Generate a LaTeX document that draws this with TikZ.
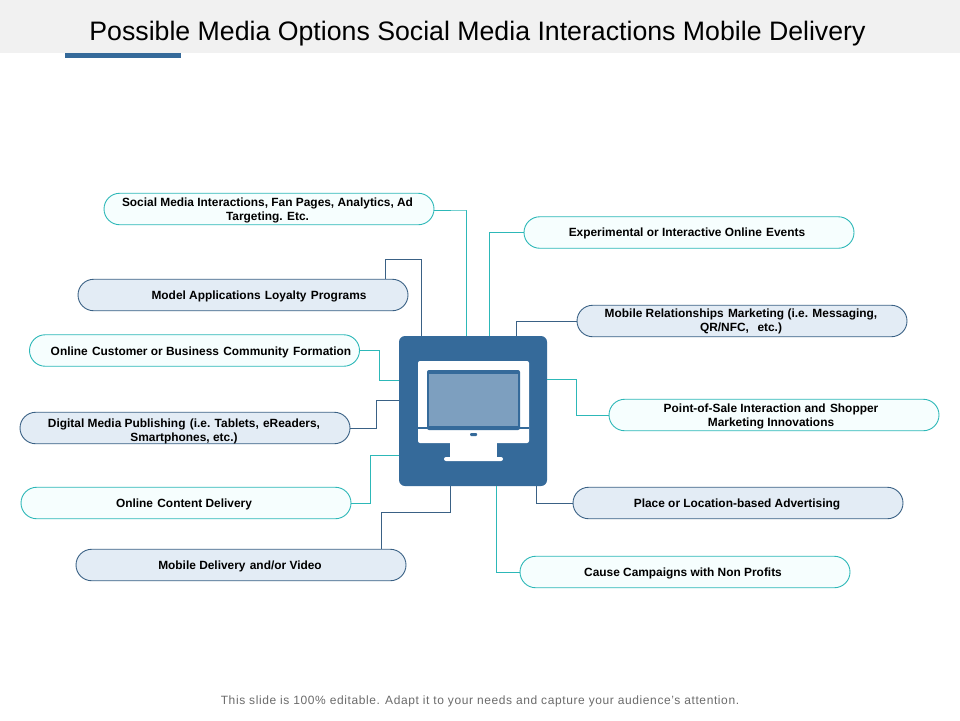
\documentclass[tikz,border=0pt]{standalone}
\usepackage{fontspec}
\setmainfont{Liberation Sans}
\usetikzlibrary{shapes.misc}
\definecolor{brand}{HTML}{356A9A}
\definecolor{tealline}{HTML}{2DB8B8}
\definecolor{darkline}{HTML}{3A6185}
\definecolor{tealfill}{HTML}{F6FEFE}
\definecolor{darkfill}{HTML}{E3ECF5}
\definecolor{screenfill}{HTML}{7D9FBF}
\newcommand\wgap{\hspace{4.3pt}}
\tikzset{
  x=1pt,y=-1pt,
  pill/.style={draw,rounded rectangle,minimum width=330pt,minimum height=31.5pt,inner sep=0pt,line width=0.9pt},
  tealpill/.style={pill,draw=tealline,fill=tealfill},
  darkpill/.style={pill,draw=darkline,fill=darkfill},
  pilltext/.style={font=\fontsize{11.9}{14}\selectfont\bfseries,align=center,inner sep=0pt,text=black},
  tealconn/.style={draw=tealline,line width=1pt},
  darkconn/.style={draw=darkline,line width=1pt},
  whitepart/.style={fill=white,draw=none},
}
\begin{document}
\begin{tikzpicture}
\useasboundingbox (0,0) rectangle (960,720);
\fill[fill=white] (0,0) rectangle (960,720);
\fill[fill=black!5.5] (0,0) rectangle (960,53);
\fill[fill=brand] (65,53) rectangle (181,58);
\node[font=\fontsize{26.7}{30}\selectfont,inner sep=0pt,text=black] (title) at (477.5,33.5) {Possible Media Options Social Media Interactions Mobile Delivery};
\node[font=\fontsize{12}{14}\selectfont\addfontfeature{LetterSpace=5},inner sep=0pt,text=black!58] (foot) at (480,701) {This slide is 100\% editable. Adapt it to your needs and capture your audience's attention.};

% centre
\node[fill=brand,draw=none,rounded corners=6pt,minimum width=148pt,minimum height=150pt,inner sep=0pt] (hub) at (473,411) {};

% pills
\node[tealpill] (a) at (269,209) {};
\node[darkpill] (b) at (243,295) {};
\node[tealpill] (c) at (194.5,350.5) {};
\node[darkpill] (d) at (185,428) {};
\node[tealpill] (e) at (186,503) {};
\node[darkpill] (f) at (241,565) {};
\node[tealpill] (g) at (689,232.5) {};
\node[darkpill] (h) at (742,321) {};
\node[tealpill] (i) at (774,415) {};
\node[darkpill] (j) at (738,503) {};
\node[tealpill] (k) at (685,572) {};

% connectors
\draw[tealconn] ([yshift=-1pt]a.east) -- ++(32.5,0) -| ([xshift=-6.5pt]hub.north);
\draw[darkconn] ([xshift=142.5pt]b.north) -- ++(0,-19) -| ([xshift=-51.5pt]hub.north);
\draw[tealconn] (c.east) -- ++(19.5,0) |- ([yshift=31pt]hub.west);
\draw[darkconn] (d.east) -- ++(26,0) |- ([yshift=11pt]hub.west);
\draw[tealconn] (e.east) -- ++(19.5,0) |- ([yshift=-44pt]hub.west);
\draw[darkconn] ([xshift=140.5pt]f.north) -- ++(0,-36) -| ([xshift=-22.5pt]hub.south);
\draw[tealconn] (g.west) -- ++(-34.5,0) -| ([xshift=16.5pt]hub.north);
\draw[darkconn] (h.west) -| ([xshift=43.5pt]hub.north);
\draw[tealconn] ([yshift=32pt]hub.east) -- ++(29.5,0) |- (i.west);
\draw[darkconn] (j.west) -| ([xshift=63.5pt]hub.south);
\draw[tealconn] (k.west) -| ([xshift=23.5pt]hub.south);

% monitor icon
\fill[whitepart,rounded corners=2pt] (418,361) rectangle (529,443);
\fill[fill=brand,rounded corners=2pt] (427,370) rectangle (520,430);
\fill[fill=screenfill] (429,374) rectangle (518,426);
\fill[fill=brand] (418,426.5) rectangle (529,429);
\fill[fill=brand,rounded corners=1pt] (470,433) rectangle (477,436);
\fill[whitepart] (450,443) rectangle (497,458);
\fill[whitepart,rounded corners=2pt] (444,457) rectangle (503,461);

\node[pilltext] (ta) at (267.5,210) {Social Media Interactions, Fan Pages, Analytics, Ad\\Targeting. Etc.};
\node[pilltext] (tb) at (259,296) {Model Applications\wgap Loyalty\wgap Programs};
\node[pilltext] (tc) at (201,352) {Online\wgap Customer or Business\wgap Community\wgap Formation};
\node[pilltext] (td) at (184,431) {Digital Media Publishing\wgap (i.e. Tablets,\wgap eReaders,\\Smartphones, etc.)};
\node[pilltext] (te) at (184,504) {Online\wgap Content Delivery};
\node[pilltext] (tf) at (240,566) {Mobile Delivery\wgap and/or Video};
\node[pilltext] (tg) at (687,233.5) {Experimental or Interactive Online\wgap Events};
\node[pilltext] (th) at (741,321.5) {Mobile Relationships\wgap Marketing (i.e. Messaging,\\QR/NFC,\wgap\wgap etc.)};
\node[pilltext] (ti) at (771,416) {Point-of-Sale Interaction and\wgap Shopper\\Marketing Innovations};
\node[pilltext] (tj) at (737,504) {Place or Location-based Advertising};
\node[pilltext] (tk) at (683,573) {Cause Campaigns with Non Profits};
\end{tikzpicture}
\end{document}
